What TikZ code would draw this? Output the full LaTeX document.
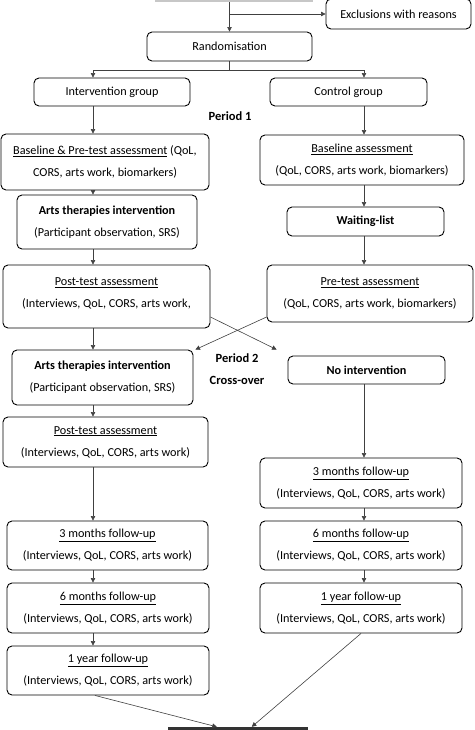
\documentclass[tikz,border=0pt]{standalone}
\usepackage{fontspec}
\setmainfont{Carlito}
\usetikzlibrary{arrows.meta}

\tikzset{
    stage/.style={draw, rounded corners=5pt, line width=0.9pt, align=center, inner sep=0pt,
        font={\fontsize{12.2}{22}\selectfont}},
    flow/.style={draw=black!75, line width=0.6pt, -{Triangle[length=4.5pt,width=4.5pt]}},
    link/.style={draw=black!75, line width=0.6pt},
    tag/.style={font={\fontsize{12.5}{13}\selectfont\bfseries}, inner sep=0pt}
}

\begin{document}
\begin{tikzpicture}[x=1pt,y=-1pt]
        \useasboundingbox (0,0) rectangle (474,730);
        % columns of the two arms
        \coordinate (L) at (93,0);
        \coordinate (R) at (364,0);
        \node [fill=black!22, minimum width=158pt, minimum height=8pt, inner sep=0pt] (enrol) at (234,-2) {};
        \node [stage, minimum width=145pt, minimum height=30pt] (excl) at (398.5,14) {Exclusions with reasons};
        \node [stage, minimum width=165pt, minimum height=29pt] (rand) at (229.5,46.5) {Randomisation};
        \node [stage, minimum width=156pt, minimum height=28pt] (igroup) at (112,92) {Intervention group};
        \node [stage, minimum width=157pt, minimum height=28pt] (cgroup) at (348.5,92) {Control group};
        \node [tag] (per1) at (230,116) {Period 1};
        % intervention arm
        \node [stage, minimum width=208pt, minimum height=56pt] (basei) at (105,162) {\underline{Baseline \& Pre-test assessment} (QoL,\\CORS, arts work, biomarkers)};
        \node [stage, minimum width=180pt, minimum height=54pt] (arts1) at (107,222) {\textbf{Arts therapies intervention}\\(Participant observation, SRS)};
        \node [stage, minimum width=207pt, minimum height=63pt] (posti) at (106.5,296.5) {\underline{Post-test assessment}\\(Interviews, QoL, CORS, arts work,\\[-14pt]\mbox{}};
        \node [stage, minimum width=181pt, minimum height=55pt] (arts2) at (102.5,377.5) {\textbf{Arts therapies intervention}\\(Participant observation, SRS)};
        \node [stage, minimum width=205pt, minimum height=50pt] (postii) at (105.5,442) {\underline{Post-test assessment}\\(Interviews, QoL, CORS, arts work)};
        \node [stage, minimum width=201pt, minimum height=49pt] (mthreeL) at (107.5,545.5) {\underline{3 months follow-up}\\(Interviews, QoL, CORS, arts work)};
        \node [stage, minimum width=202pt, minimum height=50pt] (msixL) at (108,608) {\underline{6 months follow-up}\\(Interviews, QoL, CORS, arts work)};
        \node [stage, minimum width=202pt, minimum height=49pt] (yearL) at (108,670.5) {\underline{1 year follow-up}\\(Interviews, QoL, CORS, arts work)};
        % control arm
        \node [stage, minimum width=204pt, minimum height=50pt] (basec) at (362,160) {\underline{Baseline assessment}\\(QoL, CORS, arts work, biomarkers)};
        \node [stage, minimum width=157pt, minimum height=29pt] (wait) at (365.5,221.5) {\textbf{Waiting-list}};
        \node [stage, minimum width=206pt, minimum height=57pt] (prec) at (370,293.5) {\underline{Pre-test assessment}\\(QoL, CORS, arts work, biomarkers)};
        \node [stage, minimum width=157pt, minimum height=28pt] (noint) at (366.5,370) {\textbf{No intervention}};
        \node [stage, minimum width=202pt, minimum height=50pt] (mthreeR) at (361,483) {\underline{3 months follow-up}\\(Interviews, QoL, CORS, arts work)};
        \node [stage, minimum width=202pt, minimum height=49pt] (msixR) at (361,545.5) {\underline{6 months follow-up}\\(Interviews, QoL, CORS, arts work)};
        \node [stage, minimum width=202pt, minimum height=50pt] (yearR) at (361,608) {\underline{1 year follow-up}\\(Interviews, QoL, CORS, arts work)};
        \node [tag] (per2) at (237,358) {Period 2};
        \node [tag] (cross) at (237,380) {Cross-over};
        \node [fill=black!80, minimum width=140pt, minimum height=10pt, inner sep=0pt] (final) at (238,732) {};

        % top part
        \draw [flow] (enrol.south -| rand.north) -- (rand.north);
        \draw [flow] (excl.west -| rand.north) -- (excl.west);
        \coordinate (split) at (229.5,70);
        \draw [link] (rand.south) -- (split);
        \draw [flow] (split) -| (igroup.north -| L);
        \draw [flow] (split) -| (cgroup.north -| R);
        % intervention arm
        \draw [flow] (igroup.south -| L) -- (basei.north -| L);
        \draw [flow] (basei.south -| L) -- (arts1.north -| L);
        \draw [flow] (arts1.south -| L) -- (posti.north -| L);
        \draw [flow] (posti.south -| L) -- (arts2.north -| L);
        \draw [flow] (arts2.south -| L) -- (postii.north -| L);
        \draw [flow] (postii.south -| L) -- (mthreeL.north -| L);
        \draw [flow] (mthreeL.south -| L) -- (msixL.north -| L);
        \draw [flow] (msixL.south -| L) -- (yearL.north -| L);
        % control arm
        \draw [flow] (cgroup.south -| R) -- (basec.north -| R);
        \draw [flow] (basec.south -| R) -- (wait.north -| R);
        \draw [flow] (wait.south -| R) -- (prec.north -| R);
        \draw [flow] (noint.south -| R) -- (mthreeR.north -| R);
        \draw [flow] (mthreeR.south -| R) -- (msixR.north -| R);
        \draw [flow] (msixR.south -| R) -- (yearR.north -| R);
        % cross-over
        \draw [flow] ([yshift=-20.5pt]posti.east) -- ([xshift=-11pt,yshift=6pt]noint.north west);
        \draw [flow] ([yshift=-23.5pt]prec.west) -- ([xshift=2pt]arts2.north east);
        % end
        \draw [flow] ([xshift=-13pt]yearL.south) -- ([xshift=49pt]final.north west);
        \draw [flow] (yearR.south) -- ([xshift=84pt]final.north west);
    \end{tikzpicture}
\end{document}
